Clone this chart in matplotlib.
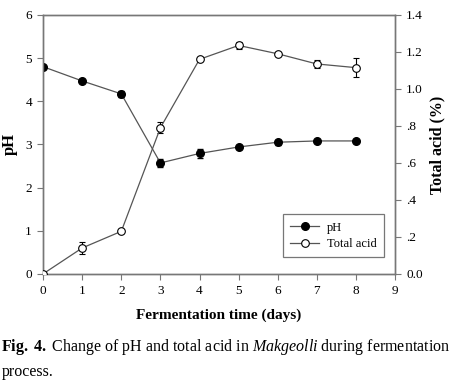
import numpy as np
import matplotlib.pyplot as plt
from matplotlib.lines import Line2D

plt.rcParams['font.family'] = 'Liberation Serif'
plt.rcParams['mathtext.fontset'] = 'custom'
plt.rcParams['mathtext.rm'] = 'Liberation Serif'
plt.rcParams['mathtext.it'] = 'Liberation Serif:italic'
plt.rcParams['mathtext.bf'] = 'Liberation Serif:bold'

# veriler
gun = [0, 1, 2, 3, 4, 5, 6, 7, 8]
ph = [4.80, 4.47, 4.17, 2.57, 2.79, 2.94, 3.05, 3.08, 3.08]
ph_hata = [0.0, 0.0, 0.07, 0.10, 0.11, 0.0, 0.06, 0.0, 0.0]
asit = [0.00, 0.14, 0.23, 0.79, 1.16, 1.235, 1.19, 1.135, 1.115]
asit_hata = [0.0, 0.03, 0.0, 0.03, 0.0, 0.02, 0.0, 0.02, 0.05]
sag_etiketler = ['0.0', '.2', '.4', '.6', '.8', '1.0', '1.2', '1.4']

cizgi = '#555555'
kenar = '#777777'

fig = plt.figure(figsize=(4.54, 3.83), dpi=100)
ax = fig.add_axes([0.095, 0.285, 0.775, 0.676])
ax2 = ax.twinx()

ax.errorbar(gun, ph, yerr=ph_hata, color=cizgi, lw=0.9, marker='o', ms=5.5,
            mfc='black', mec='black', ecolor='black', elinewidth=0.8, capsize=2.5,
            zorder=3)
ax2.errorbar(gun, asit, yerr=asit_hata, color=cizgi, lw=0.9, marker='o', ms=5.5,
             mfc='white', mec='black', mew=0.8, ecolor='black', elinewidth=0.8,
             capsize=2.5, zorder=3)

ax.set_xlim(0, 9)
ax.set_ylim(0, 6)
ax2.set_ylim(0, 1.4)
ax.set_xticks(range(10))
ax.set_yticks(range(7))
ax2.set_yticks(np.arange(0, 1.41, 0.2))
ax2.set_yticklabels(sag_etiketler)

for a in (ax, ax2):
    for s in a.spines.values():
        s.set_color(kenar)
        s.set_linewidth(1.0)
    a.tick_params(direction='out', length=4, color=kenar, labelsize=9.5, pad=4)

ax.set_xlabel('Fermentation time (days)', fontsize=11, fontweight='bold', labelpad=8)
ax.set_ylabel('pH', fontsize=12, fontweight='bold', labelpad=5)
ax2.set_ylabel('Total acid (%)', fontsize=11.5, fontweight='bold', labelpad=5)

# lejant (hata cubuklari olmadan)
h1 = Line2D([], [], color=cizgi, lw=0.9, marker='o', ms=5.5, mfc='black', mec='black')
h2 = Line2D([], [], color=cizgi, lw=0.9, marker='o', ms=5.5, mfc='white', mec='black', mew=0.8)
leg = ax2.legend([h1, h2], ['pH', 'Total acid'], loc='lower right',
                 bbox_to_anchor=(0.986, 0.039), fontsize=9, fancybox=False,
                 framealpha=1, edgecolor=kenar, handlelength=2.3, borderpad=0.6,
                 labelspacing=0.35, handletextpad=0.6)
leg.get_frame().set_linewidth(0.9)

fig.text(0.003, 0.094, r'$\mathbf{Fig.\ 4.}$ Change of pH and total acid in $\mathit{Makgeolli}$ during fermentation',
         fontsize=11.5, va='center', ha='left')
fig.text(0.003, 0.029, 'process.', fontsize=11.5, va='center', ha='left')

fig.savefig('out.png', dpi=100)
